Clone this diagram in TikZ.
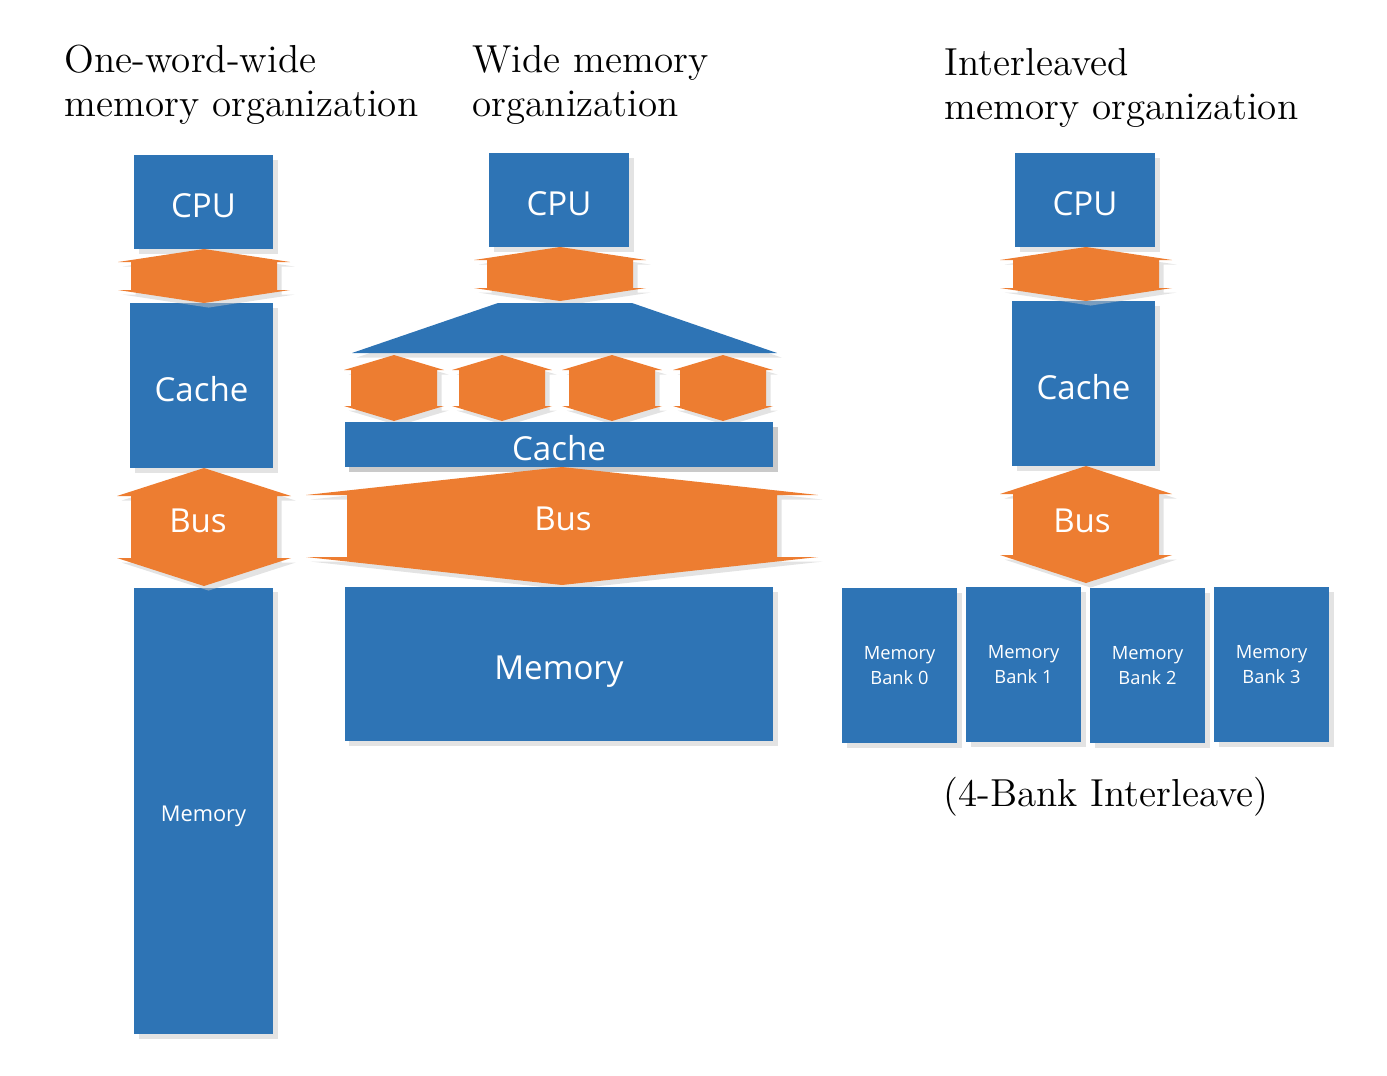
\documentclass[tikz,border=0pt]{standalone}
\usepackage{fontspec}
\newfontfamily\boxfont{Open Sans}
\usetikzlibrary{shadows}
\definecolor{boxblue}{RGB}{46,116,181}
\definecolor{busorange}{RGB}{237,125,49}
\tikzset{
  shad/.style={drop shadow={shadow xshift=1.3pt,shadow yshift=-1.3pt,fill=black!22}},
  bankblk/.style={fill=boxblue,shad,text=white,inner sep=0pt,align=center,
    minimum width=1.15cm,minimum height=1.55cm,font=\boxfont\fontsize{5.2}{7}\selectfont},
  blk/.style={fill=boxblue,shad,text=white,inner sep=0pt,text height=0.9em,text depth=0pt,
    font=\boxfont\fontsize{9.4}{11}\selectfont},
  busfill/.style={fill=busorange,shad},
  buslbl/.style={text=white,inner sep=0pt,text height=0.9em,text depth=0pt,font=\boxfont\fontsize{9.4}{11}\selectfont},
  ttl/.style={anchor=base west,inner sep=0pt,font=\fontsize{11.1}{13}\selectfont}
}
% double headed block arrow: centre x, top, bottom, head half width, shaft half width, head depth
\newcommand{\dblarrow}[6]{%
  \fill[busfill] (#1,#2) -- ({#1+#4},{#2+#6}) -- ({#1+#5},{#2+#6}) -- ({#1+#5},{#3-#6})
    -- ({#1+#4},{#3-#6}) -- (#1,#3) -- ({#1-#4},{#3-#6}) -- ({#1-#5},{#3-#6})
    -- ({#1-#5},{#2+#6}) -- ({#1-#4},{#2+#6}) -- cycle;}
\begin{document}
\begin{tikzpicture}[x=0.01cm,y=-0.01cm]
  \useasboundingbox (0,0) rectangle (1387,1075);

  % titles
  \node[ttl] (titleA1) at (64,72) {One-word-wide};
  \node[ttl] (titleA2) at (64,116) {memory organization};
  \node[ttl] (titleB1) at (472,72) {Wide memory};
  \node[ttl] (titleB2) at (472,116) {organization};
  \node[ttl] (titleC1) at (944,75) {Interleaved};
  \node[ttl] (titleC2) at (944,119) {memory organization};

  % one-word-wide
  \node[blk,minimum width=1.39cm,minimum height=0.94cm] (cpuA) at (203.5,202) {CPU};
  \node[blk,minimum width=1.43cm,minimum height=1.65cm] (cacheA) at (201.5,385.5) {Cache};
  \node[blk,minimum width=1.39cm,minimum height=4.46cm,text height=6.2pt,
        font=\boxfont\fontsize{6.2}{8}\selectfont] (memA) at (203.5,811) {Memory};
  \dblarrow{204}{249}{303}{86}{73}{13}
  \dblarrow{204}{468}{586}{87}{73}{28}
  \node[buslbl] (busA) at (198,517) {Bus};

  % wide
  \node[blk,minimum width=1.40cm,minimum height=0.94cm] (cpuB) at (559,200) {CPU};
  \dblarrow{560}{247}{301}{86}{73}{13}
  \fill[fill=boxblue,shad] (498,303) -- (632,303) -- (777,353) -- (352,353) -- cycle;
  \foreach \cx in {394,502,612,723}
    \dblarrow{\cx}{355}{421}{50}{43}{15}
  \node[blk,minimum width=4.28cm,minimum height=0.45cm] (cacheB) at (559,444.5) {Cache};
  \dblarrow{562}{467}{585}{256}{215}{28}
  \node[buslbl] (busB) at (563,515) {Bus};
  \node[blk,minimum width=4.28cm,minimum height=1.54cm] (memB) at (559,664) {Memory};

  % interleaved
  \node[blk,minimum width=1.40cm,minimum height=0.94cm] (cpuC) at (1085,200) {CPU};
  \node[blk,minimum width=1.43cm,minimum height=1.65cm] (cacheC) at (1083.5,383.5) {Cache};
  \dblarrow{1086}{247}{301}{86}{73}{13}
  \dblarrow{1086}{466}{583}{86}{73}{28}
  \node[buslbl] (busC) at (1082,517) {Bus};
  \foreach \bx/\by/\n in {899.5/665.5/0,1023.5/664.5/1,1147.5/665.5/2,1271.5/664.5/3}
    \node[bankblk] (bank\n) at (\bx,\by) {Memory\\Bank \n};
  \node[ttl] (caption) at (943,806) {(4-Bank Interleave)};
\end{tikzpicture}
\end{document}
